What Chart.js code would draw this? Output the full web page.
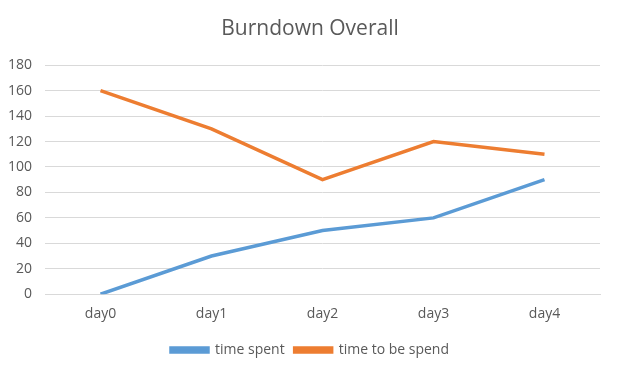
<!DOCTYPE html>
<html>
<head>
<meta charset="utf-8">
<script src="https://cdn.jsdelivr.net/npm/chart.js@4.4.0/dist/chart.umd.min.js"></script>
<style>
html,body{margin:0;padding:0;background:#fff;}
#wrap{width:620px;height:372px;position:relative;}
</style>
</head>
<body>
<div id="wrap"><canvas id="c" width="620" height="372"></canvas></div>
<script>
const categories = ["day0", "day1", "day2", "day3", "day4"];
const timeSpent = [0, 30, 50, 60, 90];
const timeToBeSpend = [160, 130, 90, 120, 110];
const seriesNames = ["time spent", "time to be spend"];

const txt = "#595959";
new Chart(document.getElementById("c"), {
  type: "line",
  data: {
    labels: categories,
    datasets: [
      { label: seriesNames[0], data: timeSpent, borderColor: "#5B9BD5", backgroundColor: "#5B9BD5", borderWidth: 3.5, pointRadius: 0, tension: 0 },
      { label: seriesNames[1], data: timeToBeSpend, borderColor: "#ED7D31", backgroundColor: "#ED7D31", borderWidth: 3.5, pointRadius: 0, tension: 0 }
    ]
  },
  options: {
    responsive: false,
    animation: false,
    layout: { padding: { left: 6, right: 6, top: 12, bottom: 5 } },
    plugins: {
      title: { display: true, text: "Burndown Overall", color: txt, font: { family: "Open Sans", size: 21, weight: "normal" }, padding: { top: 4, bottom: 24 } },
      legend: { position: "bottom", labels: { color: txt, font: { family: "Open Sans", size: 14 }, boxWidth: 37, boxHeight: 4, padding: 10 } },
      tooltip: { enabled: false }
    },
    scales: {
      x: {
        offset: true,
        grid: { display: false, drawTicks: false },
        border: { display: true, color: "#d9d9d9" },
        ticks: { color: txt, font: { family: "Open Sans", size: 14 }, padding: 11 }
      },
      y: {
        min: 0, max: 180,
        afterFit: function (s) { s.width = 39; },
        ticks: { stepSize: 20, color: txt, font: { family: "Open Sans", size: 14 }, padding: 13 },
        grid: { color: "#d9d9d9", drawTicks: false },
        border: { display: false }
      },
      yRightSpacer: {
        position: "right",
        min: 0, max: 180,
        afterFit: function (s) { s.width = 14; },
        ticks: { display: false },
        grid: { display: false, drawTicks: false },
        border: { display: false }
      }
    }
  }
});
</script>
</body>
</html>
